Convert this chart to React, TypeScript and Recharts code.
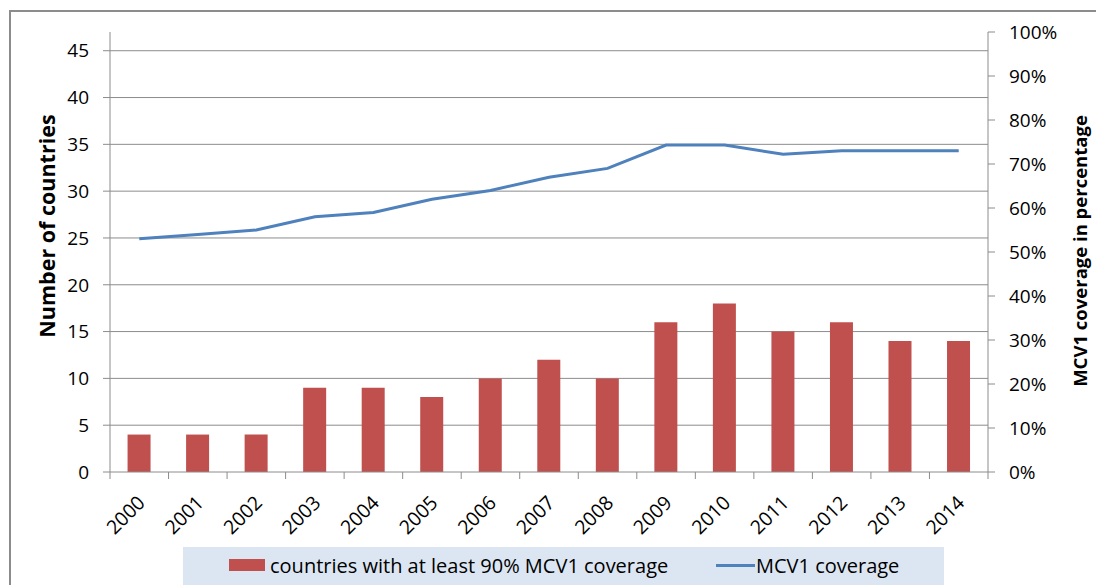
import React from "react";
import { ComposedChart, Bar, Line, XAxis, YAxis, CartesianGrid } from "recharts";

const YEARS = ["2000", "2001", "2002", "2003", "2004", "2005", "2006", "2007", "2008", "2009", "2010", "2011", "2012", "2013", "2014"];
const COUNTRIES = [4, 4, 4, 9, 9, 8, 10, 12, 10, 16, 18, 15, 16, 14, 14];
const COVERAGE = [0.53, 0.54, 0.55, 0.58, 0.59, 0.62, 0.64, 0.67, 0.69, 0.743, 0.743, 0.722, 0.73, 0.73, 0.73];
const LEFT_TICKS = [0, 5, 10, 15, 20, 25, 30, 35, 40, 45];
const RIGHT_TICKS = [0, 0.1, 0.2, 0.3, 0.4, 0.5, 0.6, 0.7, 0.8, 0.9, 1];

const BAR = "#C0504D";
const LINE = "#4F81BD";
const AXIS = "#8c8c8c";
const FONT = "'Open Sans', sans-serif";

const data = YEARS.map((year, i) => ({ year, countries: COUNTRIES[i], coverage: COVERAGE[i] }));

function YearTick(props: any) {
  const { x, y, payload, index } = props;
  const half = payload?.offset ?? 29.27;
  const axisY = y - 7;
  const tx = x + 7;
  const ty = y + 25;
  return (
    <g>
      <line x1={x - half} x2={x - half} y1={axisY} y2={axisY + 7} stroke={AXIS} />
      {index === YEARS.length - 1 && (
        <line x1={x + half} x2={x + half} y1={axisY} y2={axisY + 7} stroke={AXIS} />
      )}
      <text x={tx} y={ty} transform={`rotate(-45 ${tx} ${ty})`} textAnchor="end" fill="#000" fontSize={19.5} fontFamily={FONT}>
        {payload.value}
      </text>
    </g>
  );
}

function AxisTitle({ viewBox, dx, dy, text, size }: any) {
  const cx = viewBox.x + dx;
  const cy = viewBox.y + viewBox.height / 2 + dy;
  return (
    <text x={cx} y={cy} transform={`rotate(-90 ${cx} ${cy})`} textAnchor="middle" dominantBaseline="central"
      fontSize={size} fontWeight={700} fontFamily={FONT} fill="#000">
      {text}
    </text>
  );
}

export default function App() {
  return (
    <div style={{ position: "relative", width: 1096, height: 577, overflow: "hidden", fontFamily: FONT, background: "#fff" }}>
      <div style={{ position: "absolute", left: 1, top: 2, width: 1300, height: 800, border: "2px solid #8c8c8c" }} />
      <ComposedChart
        width={1096}
        height={577}
        data={data}
        margin={{ top: 24, right: 16, bottom: 43, left: 42 }}
        barCategoryGap="30%"
        style={{ position: "absolute", left: 0, top: 0 }}
      >
        <CartesianGrid yAxisId="left" vertical={false} stroke={AXIS} horizontalValues={LEFT_TICKS.slice(1)} />
        <XAxis
          dataKey="year"
          interval={0}
          height={70}
          stroke={AXIS}
          tickLine={false}
          tickSize={7}
          tickMargin={0}
          tick={<YearTick />}
        />
        <YAxis
          yAxisId="left"
          domain={[0, 47]}
          ticks={LEFT_TICKS}
          width={60}
          stroke={AXIS}
          tickSize={7}
          tickMargin={14}
          tick={{ fill: "#000", fontSize: 19, fontFamily: FONT }}
          label={{ content: (p: any) => <AxisTitle {...p} dx={-4} dy={-26} size={21.5} text="Number of countries" /> }}
        />
        <YAxis
          yAxisId="right"
          orientation="right"
          domain={[0, 1]}
          ticks={RIGHT_TICKS}
          width={100}
          stroke={AXIS}
          tickSize={7}
          tickMargin={14}
          tickFormatter={(v: number) => `${Math.round(v * 100)}%`}
          tick={{ fill: "#000", fontSize: 19, fontFamily: FONT }}
          label={{ content: (p: any) => <AxisTitle {...p} dx={91} dy={-1} size={18.5} text="MCV1 coverage in percentage" /> }}
        />
        <Bar yAxisId="left" dataKey="countries" fill={BAR} isAnimationActive={false} />
        <Line yAxisId="right" dataKey="coverage" stroke={LINE} strokeWidth={3} dot={false} type="linear" isAnimationActive={false} />
      </ComposedChart>
      <div style={{ position: "absolute", left: 175, top: 539, width: 761, height: 40, background: "#DCE6F2", fontSize: 20, color: "#000" }}>
        <div style={{ position: "absolute", left: 46, top: 0, height: 36, display: "flex", alignItems: "center", whiteSpace: "nowrap" }}>
          <span style={{ display: "inline-block", width: 36, height: 12, background: BAR, marginRight: 5 }} />
          countries with at least 90% MCV1 coverage
        </div>
        <div style={{ position: "absolute", left: 533, top: 0, height: 36, display: "flex", alignItems: "center", whiteSpace: "nowrap" }}>
          <span style={{ display: "inline-block", width: 39, height: 3, background: LINE, marginRight: 1 }} />
          MCV1 coverage
        </div>
      </div>
    </div>
  );
}
